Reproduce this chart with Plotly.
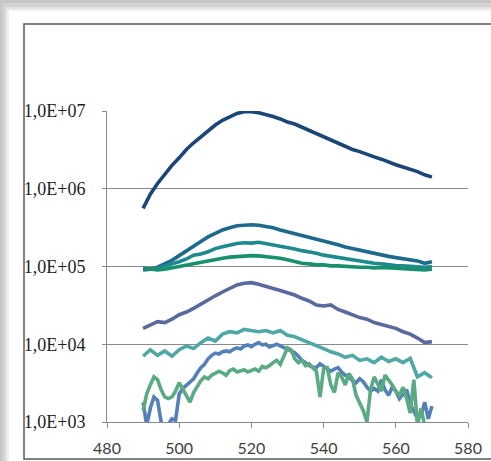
import plotly.graph_objects as go

# ---- data ----
x_step2 = list(range(490, 571, 2))
x_step1 = list(range(490, 571, 1))

s1 = [5.6e5, 8.5e5, 1.17e6, 1.55e6, 2.0e6, 2.5e6, 3.2e6, 3.9e6, 4.7e6, 5.6e6,
      6.6e6, 7.6e6, 8.5e6, 9.3e6, 9.8e6, 9.8e6, 9.5e6, 9.1e6, 8.5e6, 7.9e6,
      7.2e6, 6.8e6, 6.2e6, 5.6e6, 5.1e6, 4.7e6, 4.3e6, 3.9e6, 3.5e6, 3.2e6,
      3.0e6, 2.75e6, 2.57e6, 2.4e6, 2.19e6, 2.04e6, 1.9e6, 1.78e6, 1.66e6, 1.51e6, 1.41e6]
s2 = [9.0e4, 9.2e4, 9.8e4, 1.07e5, 1.2e5, 1.38e5, 1.6e5, 1.85e5, 2.1e5, 2.4e5,
      2.7e5, 2.95e5, 3.15e5, 3.35e5, 3.4e5, 3.45e5, 3.4e5, 3.3e5, 3.15e5, 2.95e5,
      2.8e5, 2.65e5, 2.5e5, 2.35e5, 2.25e5, 2.1e5, 2.0e5, 1.9e5, 1.78e5, 1.7e5,
      1.6e5, 1.55e5, 1.45e5, 1.4e5, 1.35e5, 1.3e5, 1.25e5, 1.22e5, 1.18e5, 1.1e5, 1.15e5]
s3 = [9.5e4, 9.3e4, 9.5e4, 1.0e5, 1.08e5, 1.15e5, 1.25e5, 1.4e5, 1.45e5, 1.55e5,
      1.7e5, 1.8e5, 1.9e5, 1.98e5, 2.02e5, 2.0e5, 2.05e5, 1.98e5, 1.9e5, 1.85e5,
      1.75e5, 1.68e5, 1.6e5, 1.55e5, 1.48e5, 1.4e5, 1.35e5, 1.3e5, 1.25e5, 1.2e5,
      1.17e5, 1.13e5, 1.1e5, 1.08e5, 1.05e5, 1.03e5, 1.02e5, 1.0e5, 1.0e5, 9.8e4, 1.0e5]
s4 = [9.5e4, 9.2e4, 9.0e4, 9.2e4, 9.6e4, 1.0e5, 1.05e5, 1.1e5, 1.15e5, 1.2e5,
      1.25e5, 1.28e5, 1.32e5, 1.35e5, 1.38e5, 1.38e5, 1.37e5, 1.35e5, 1.32e5, 1.28e5,
      1.22e5, 1.15e5, 1.1e5, 1.08e5, 1.05e5, 1.05e5, 1.02e5, 1.02e5, 1.0e5, 1.0e5,
      9.8e4, 9.8e4, 9.6e4, 9.7e4, 9.5e4, 9.5e4, 9.4e4, 9.3e4, 9.2e4, 9.0e4, 9.2e4]
s5 = [1.6e4, 1.75e4, 1.95e4, 1.9e4, 2.1e4, 2.4e4, 2.6e4, 2.9e4, 3.3e4, 3.7e4,
      4.2e4, 4.7e4, 5.2e4, 5.8e4, 6.1e4, 6.2e4, 5.9e4, 5.6e4, 5.2e4, 4.9e4,
      4.6e4, 4.3e4, 3.9e4, 3.6e4, 3.2e4, 3.1e4, 3.2e4, 2.8e4, 2.6e4, 2.4e4,
      2.2e4, 2.1e4, 1.9e4, 1.8e4, 1.7e4, 1.6e4, 1.45e4, 1.35e4, 1.2e4, 1.05e4, 1.08e4]
s6 = [7.0e3, 8.5e3, 7.2e3, 8.2e3, 7.0e3, 8.5e3, 9.5e3, 8.8e3, 1.05e4, 1.2e4,
      1.1e4, 1.35e4, 1.45e4, 1.4e4, 1.55e4, 1.5e4, 1.45e4, 1.5e4, 1.4e4, 1.5e4,
      1.3e4, 1.25e4, 1.15e4, 1.05e4, 9.5e3, 8.8e3, 8.0e3, 7.5e3, 6.8e3, 7.2e3,
      6.2e3, 6.5e3, 5.8e3, 6.8e3, 6.0e3, 6.5e3, 5.8e3, 6.6e3, 3.8e3, 4.3e3, 3.7e3]
s7 = [1800, 900, 1500, 2100, 1900, 1000, 800, 950, 1100, 1050,
      2300, 2700, 3000, 3300, 3600, 4300, 5000, 5500, 6500, 7200,
      7700, 7500, 8000, 8200, 8000, 8600, 9000, 8700, 9500, 9800,
      9300, 10000, 10500, 9800, 10000, 9200, 9500, 10000, 9500, 9000,
      8600, 8000, 7800, 7000, 6200, 5800, 5300, 5100, 5000, 5600,
      5200, 4700, 4500, 4800, 5000, 4400, 4000, 3800, 3400, 3200,
      3600, 3300, 2800, 2500, 2700, 2500, 3500, 2600, 2200, 2800,
      2500, 2000, 2300, 2600, 1700, 1400, 1100, 1200, 1800, 1100, 1600]
s8 = [1400, 2300, 3000, 3800, 3500, 2600, 2100, 2000, 2100, 2500,
      3200, 2600, 2200, 1800, 2400, 2900, 3400, 3800, 3600, 4000,
      4200, 4500, 4300, 4000, 4600, 4800, 4400, 4500, 4700, 4400,
      4600, 4800, 4500, 5200, 5000, 5300, 5800, 6200, 5500, 7000,
      9000, 8500, 6500, 5800, 6200, 5300, 5600, 5000, 4500, 2100,
      4800, 5000, 3000, 2400, 4300, 3800, 3000, 4200, 3600, 2200,
      1800, 1400, 1000, 2600, 3800, 3000, 2500, 4000, 3500, 3000,
      2500, 2200, 2800, 2000, 1300, 3500, 900, 1500, 900, 800, 850]

y_tickvals = [1e3, 1e4, 1e5, 1e6, 1e7]
y_ticktext = ["1,0E+03", "1,0E+04", "1,0E+05", "1,0E+06", "1,0E+07"]
x_tickvals = [480, 500, 520, 540, 560, 580]

series = [
    (x_step2, s1, "#1B4677"),
    (x_step2, s2, "#1E6A8E"),
    (x_step2, s3, "#1F8A8E"),
    (x_step2, s4, "#17906E"),
    (x_step2, s5, "#5A6A9E"),
    (x_step2, s6, "#4EA8A4"),
    (x_step1, s7, "#5480B8"),
    (x_step1, s8, "#5AAA84"),
]

fig = go.Figure()
for xs, ys, col in series:
    fig.add_trace(go.Scatter(x=xs, y=ys, mode="lines",
                             line=dict(color=col, width=3.6), showlegend=False))

W, H = 491, 461
L, R, T, B = 107, 23, 111, 39
pw, ph = W - L - R, H - T - B

def px(xp):
    return (xp - L) / pw

def py(yp):
    return (H - B - yp) / ph

shapes = []
for (x0, y0, c) in [(2, 3, "#d2d2d2"), (5, 7, "#e2e2e2"), (7, 9, "#f0f0f0"), (9, 11, "#ffffff")]:
    shapes.append(dict(type="rect", xref="paper", yref="paper", layer="below",
                       x0=px(x0), x1=px(W + 10), y0=py(y0), y1=py(H + 10),
                       fillcolor=c, line=dict(width=0)))
shapes.append(dict(type="rect", xref="paper", yref="paper", layer="below",
                   x0=px(24), x1=px(W + 10), y0=py(24), y1=py(459),
                   fillcolor="rgba(0,0,0,0)", line=dict(color="#5a5a5a", width=1.5)))

fig.update_layout(
    width=W, height=H,
    margin=dict(l=L, r=R, t=T, b=B, pad=0, autoexpand=False),
    paper_bgcolor="#c6c6c6",
    plot_bgcolor="rgba(0,0,0,0)",
    shapes=shapes,
    xaxis=dict(range=[480, 580], tickvals=x_tickvals, showgrid=False, automargin=False,
               showline=True, linecolor="#8a8a8a", linewidth=1,
               ticks="outside", ticklen=5, tickcolor="#8a8a8a",
               tickfont=dict(family="Lato", size=16, color="#404040"),
               ticklabelstandoff=7, zeroline=False),
    yaxis=dict(type="log", range=[3, 7], tickvals=y_tickvals, ticktext=y_ticktext,
               automargin=False,
               showgrid=True, gridcolor="#8a8a8a", gridwidth=1,
               showline=True, linecolor="#8a8a8a", linewidth=1,
               ticks="outside", ticklen=4, tickcolor="#8a8a8a",
               tickfont=dict(family="Liberation Serif, DejaVu Serif, serif", size=18, color="#1e1e1e"),
               ticklabelstandoff=13, zeroline=False),
)

fig.write_html("out.html", config={"displayModeBar": False},
               post_script="document.body.style.margin='0';document.body.style.overflow='hidden';")
